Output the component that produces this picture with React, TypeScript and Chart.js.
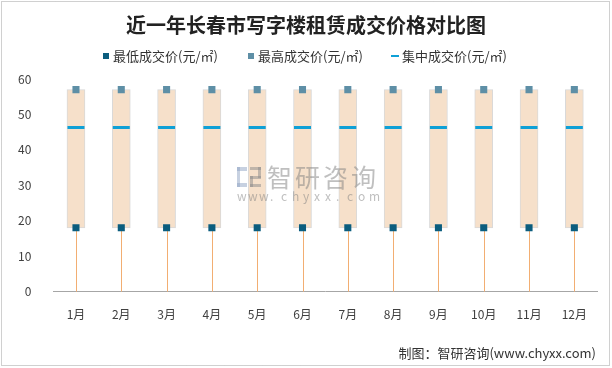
import React, { useEffect, useRef } from "react";
import { Chart, registerables } from "chart.js";
Chart.register(...registerables);

const categories = ["1月", "2月", "3月", "4月", "5月", "6月", "7月", "8月", "9月", "10月", "11月", "12月"];
const minPrice = [18, 18, 18, 18, 18, 18, 18, 18, 18, 18, 18, 18];
const maxPrice = [57, 57, 57, 57, 57, 57, 57, 57, 57, 57, 57, 57];
const midPrice = [46.3, 46.3, 46.3, 46.3, 46.3, 46.3, 46.3, 46.3, 46.3, 46.3, 46.3, 46.3];
const yTicks = [0, 10, 20, 30, 40, 50, 60];
const seriesNames = ["最低成交价(元/㎡)", "最高成交价(元/㎡)", "集中成交价(元/㎡)"];
const titleText = "近一年长春市写字楼租赁成交价格对比图";

const FONT = "'Noto Sans CJK SC', 'Noto Sans', sans-serif";
const C_MIN = "#0B5D7E";
const C_MAX = "#5E8FA6";
const C_MID = "#0FA0D6";
const C_WHISKER = "#F2AE72";

const whiskerPlugin = {
  id: "whiskers",
  beforeDatasetsDraw(chart: any) {
    const ctx = chart.ctx;
    const xs = chart.scales.x;
    const ys = chart.scales.y;
    ctx.save();
    ctx.strokeStyle = C_WHISKER;
    ctx.lineWidth = 1;
    minPrice.forEach((v, i) => {
      const x = Math.round(xs.getPixelForValue(i)) + 0.5;
      ctx.beginPath();
      ctx.moveTo(x, ys.getPixelForValue(0));
      ctx.lineTo(x, ys.getPixelForValue(v));
      ctx.stroke();
    });
    ctx.restore();
  },
};

const framePlugin = {
  id: "frame",
  afterDraw(chart: any) {
    const ctx = chart.ctx;
    ctx.save();
    // outer border
    ctx.strokeStyle = "#A0A0A0";
    ctx.setLineDash([1, 1]);
    ctx.lineWidth = 1;
    ctx.strokeRect(1.5, 1.5, 608, 364);
    ctx.setLineDash([]);
    // title
    ctx.font = `bold 20px ${FONT}`;
    ctx.fillStyle = "#222222";
    ctx.textAlign = "center";
    ctx.textBaseline = "middle";
    ctx.fillText(titleText, 306, 25);
    // legend
    ctx.font = `13px ${FONT}`;
    ctx.textAlign = "left";
    ctx.fillStyle = C_MIN;
    ctx.fillRect(103, 53, 6, 6);
    ctx.fillStyle = C_MAX;
    ctx.fillRect(248, 53, 6, 6);
    ctx.fillStyle = C_MID;
    ctx.fillRect(391, 55, 8, 2);
    ctx.fillStyle = "#333333";
    ctx.fillText(seriesNames[0], 113, 56);
    ctx.fillText(seriesNames[1], 258, 56);
    ctx.fillText(seriesNames[2], 402, 56);
    // watermark
    ctx.globalAlpha = 0.5;
    ctx.fillStyle = "#8FA3C4";
    ctx.fillRect(237, 167, 10, 4);
    ctx.fillRect(237, 167, 3, 20);
    ctx.fillRect(237, 183, 10, 4);
    ctx.fillStyle = "#8A8A8A";
    ctx.fillRect(250, 167, 11, 3);
    ctx.fillRect(258, 167, 3, 11);
    ctx.fillRect(250, 176, 11, 3);
    ctx.fillRect(250, 176, 3, 11);
    ctx.fillRect(250, 184, 11, 3);
    ctx.font = `25px ${FONT}`;
    ctx.fillStyle = "#808080";
    let wx = 267;
    for (const c of "智研咨询") {
      ctx.fillText(c, wx, 177);
      wx += 28;
    }
    ctx.font = `12px ${FONT}`;
    const s = "www.chyxx.com";
    let x = 237;
    for (const c of s) {
      ctx.fillText(c, x, 196);
      x += 11;
    }
    ctx.globalAlpha = 1;
    // footer
    ctx.font = `13px ${FONT}`;
    ctx.fillStyle = "#333333";
    ctx.textAlign = "right";
    ctx.fillText("制图：智研咨询(www.chyxx.com)", 596, 353);
    ctx.restore();
  },
};

export default function App() {
  const ref = useRef<HTMLCanvasElement>(null);
  useEffect(() => {
    if (!ref.current) return;
    const chart = new Chart(ref.current, {
      type: "bar",
      data: {
        labels: categories,
        datasets: [
          {
            type: "bar",
            label: "range",
            data: minPrice.map((v, i) => [v, maxPrice[i]]) as any,
            backgroundColor: "#F6E0CA",
            borderColor: "#D9D9D9",
            borderWidth: 1,
            borderSkipped: false,
            barThickness: 18,
            grouped: false,
            order: 5,
          } as any,
          {
            type: "line",
            label: seriesNames[0],
            data: minPrice,
            showLine: false,
            pointStyle: "rect",
            pointRadius: 5,
            pointBackgroundColor: C_MIN,
            pointBorderColor: C_MIN,
            pointBorderWidth: 0,
            order: 1,
          } as any,
          {
            type: "line",
            label: seriesNames[1],
            data: maxPrice,
            showLine: false,
            pointStyle: "rect",
            pointRadius: 5,
            pointBackgroundColor: C_MAX,
            pointBorderColor: C_MAX,
            pointBorderWidth: 0,
            order: 1,
          } as any,
          {
            type: "line",
            label: seriesNames[2],
            data: midPrice,
            showLine: false,
            pointStyle: "line",
            pointRadius: 8.5,
            pointBorderWidth: 3,
            pointBorderColor: C_MID,
            pointBackgroundColor: C_MID,
            order: 2,
          } as any,
        ],
      },
      options: {
        responsive: false,
        animation: false,
        layout: { padding: { left: 4, right: 15, top: 79, bottom: 38 } },
        plugins: {
          title: { display: false },
          legend: { display: false },
          tooltip: { enabled: false },
        },
        scales: {
          x: {
            grid: { display: false },
            border: { display: true, color: "#A6A6A6", width: 1 },
            ticks: { font: { family: FONT, size: 12 }, color: "#404040", padding: 8 },
          },
          y: {
            min: 0,
            max: 60,
            afterBuildTicks: (axis: any) => {
              axis.ticks = yTicks.map((v) => ({ value: v }));
            },
            grid: { display: false },
            border: { display: false },
            ticks: { font: { family: FONT, size: 12 }, color: "#404040", padding: 14 },
          },
        },
      },
      plugins: [whiskerPlugin, framePlugin],
    });
    return () => chart.destroy();
  }, []);
  return (
    <div style={{ position: "fixed", left: 0, top: 0, width: 612, height: 368, background: "#fff" }}>
      <canvas ref={ref} width={612} height={368} style={{ width: 612, height: 368 }} />
    </div>
  );
}
